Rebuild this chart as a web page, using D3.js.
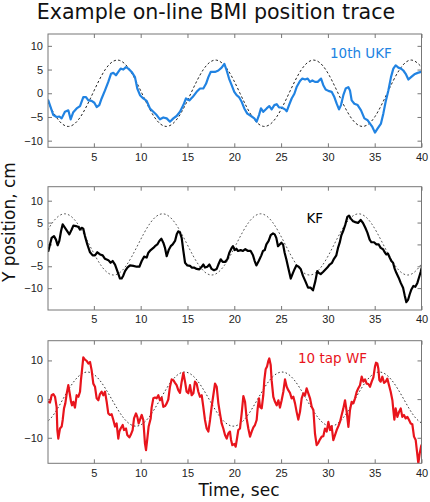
<!DOCTYPE html>
<html><head><meta charset="utf-8">
<script src="https://cdn.jsdelivr.net/npm/d3@7"></script>
<style>body{margin:0;background:#fff}svg{display:block}</style>
</head><body><svg id="c" width="430" height="502"></svg>
<script>
// ---------- data ----------
const xTickValues = [5,10,15,20,25,30,35,40];
const yTicksSmall = [-10,-5,0,5,10];
const yTicksWide = [-10,0,10];

// 10th UKF (blue) trace
const ukfT = [0.13,0.67,1.02,1.31,1.56,1.91,2.27,2.52,2.8,3.16,3.52,3.87,4.16,4.41,4.76,5.05,5.3,5.58,5.83,6.19,6.54,6.83,7.08,7.36,7.61,7.86,8.15,8.43,8.68,9.04,9.39,9.64,9.93,10.28,10.64,10.99,11.35,11.71,12.06,12.42,12.78,13.13,13.49,13.84,14.2,14.56,14.84,15.2,15.55,15.98,16.34,16.69,16.98,17.23,17.48,17.94,
  18.3,18.65,18.94,19.19,19.44,19.72,20.0,20.25,20.5,20.79,21.07,21.39,21.79,22.14,22.39,22.64,22.85,23.1,23.46,23.74,23.99,24.28,24.53,24.78,25.06,25.42,25.6,25.85,26.13,26.42,26.66,27.02,27.27,27.56,27.84,28.09,28.34,28.62,28.91,29.27,29.51,29.76,30.05,30.4,30.69,30.94,31.19,31.4,31.65,31.9,32.18,32.36,32.54,32.83,33.18,33.54,33.9,34.25,34.5,34.75,35.03,35.32,35.67,35.92,36.17,36.46,36.74,36.99,37.24,37.53,37.81,38.06,38.31,38.6,38.88,39.24,39.59,39.95];
const ukfV = [-1.5,-4.6,-5.0,-4.9,-5.3,-3.9,-3.6,-5.5,-4.0,-3.2,-2.7,-0.8,-0.8,-1.5,-1.6,-2.0,-2.9,-2.5,-1.1,0.6,2.4,4.1,4.3,3.8,4.5,5.2,5.0,5.5,5.2,4.5,3.4,1.0,-0.4,-1.1,-1.6,-3.2,-3.9,-4.6,-5.5,-5.1,-5.3,-6.0,-5.3,-4.8,-3.9,-2.5,-1.1,-1.5,-0.8,0.3,1.0,1.0,2.0,3.4,4.5,4.5,
  4.8,5.4,6.2,4.8,3.1,1.7,0.3,-0.4,-0.8,-1.8,-3.2,-4.3,-4.8,-5.3,-6.0,-4.6,-3.2,-3.9,-3.2,-2.7,-3.4,-2.5,-2.3,-3.0,-3.0,-3.4,-3.8,-2.5,-1.1,-0.1,1.3,2.6,3.1,2.9,3.1,2.4,2.7,2.4,2.4,3.1,1.7,0.8,0.5,0.3,-0.8,-2.2,-3.4,-2.5,-0.4,1.0,1.3,0.6,-1.5,-2.2,-2.5,-3.6,-5.3,-5.7,-6.4,-7.1,-8.3,-7.4,-6.4,-4.3,-1.8,0.6,3.4,5.2,5.9,5.4,5.2,4.8,4.1,2.9,3.4,4.0,4.3,4.5];

// KF (black) trace
const kfT = [0.14,0.31,0.49,0.74,0.95,1.13,1.31,1.49,1.67,1.92,2.17,2.38,2.63,2.81,3.09,3.34,3.52,3.7,3.87,4.05,4.3,4.59,4.87,5.12,5.37,5.66,5.94,6.19,6.55,6.79,7.01,7.26,7.51,7.79,7.97,8.15,8.33,8.58,8.86,9.22,9.57,9.86,10.11,10.36,10.64,10.82,11.07,11.35,11.53,11.78,11.99,12.21,12.42,12.6,12.78,12.99,13.21,13.42,13.67,13.85,14.02,14.2,14.38,14.56,14.74,14.99,15.27,15.45,15.7,15.98,16.27,16.52,16.7,16.87,17.12,17.34,17.58,17.83,18.12,18.3,18.55,18.76,19.01,19.26,19.47,19.72,
  19.86,20.04,20.22,20.4,20.68,20.93,21.18,21.47,21.75,22.0,22.18,22.36,22.61,22.89,23.07,23.25,23.43,23.67,23.89,24.14,24.32,24.49,24.67,24.85,25.03,25.21,25.38,25.56,25.74,26.03,26.27,26.45,26.63,26.88,27.09,27.34,27.59,27.88,28.16,28.41,28.66,28.87,29.02,29.23,29.48,29.66,29.94,30.19,30.44,30.65,30.9,31.08,31.26,31.44,31.62,31.87,32.08,32.26,32.44,32.69,32.93,33.22,33.5,33.75,34.0,34.22,34.46,34.64,34.93,35.18,35.43,35.64,35.89,36.07,36.25,36.42,36.6,36.78,36.96,37.14,37.31,37.56,37.78,38.03,38.2,38.38,38.56,38.74,38.92,39.13,39.34,39.56,39.7,39.91,40.0];
const kfV = [-1.5,0,1.5,1.9,1.1,-0.2,0.8,3.0,4.6,3.8,3.0,2.3,3.4,4.3,4.2,4.0,3.4,3.8,3.6,1.9,0,-1.8,-2.5,-2.5,-1.8,-2.3,-2.5,-3.3,-3.6,-4.2,-3.8,-4.6,-6.1,-7.8,-7.8,-7.1,-6.1,-5.3,-4.8,-4.9,-5.1,-5.1,-3.8,-2.8,-3.0,-1.9,-1.3,-0.8,-0.4,0,0.8,1.3,0.4,-0.8,-2.7,-1.3,-0.4,0,0.8,2.3,3.0,2.7,1.5,-1.5,-4.2,-4.8,-4.9,-5.3,-5.3,-5.6,-5.7,-5.1,-4.6,-5.3,-5.1,-4.6,-5.6,-5.9,-5.6,-4.6,-3.4,-4.0,-4.0,-3.4,-1.9,-0.8,
  -0.4,-1.3,-1.0,-1.5,-1.3,-1.5,-1.1,-1.5,-1.5,-2.5,-3.8,-4.8,-3.8,-2.5,-1.5,-1.3,0,0.8,2.1,2.5,2.3,1.5,-0.4,0,0.4,0,-1.9,-3.4,-5.1,-7.8,-6.5,-5.6,-4.8,-5.1,-5.6,-7.2,-8.4,-9.9,-9.9,-10.5,-8.4,-6.1,-6.5,-6.8,-6.3,-5.9,-5.3,-4.6,-4.2,-3.3,-2.5,-0.8,0.4,2.1,3.0,4.6,6.3,6.6,5.9,5.3,5.1,4.9,5.6,4.9,3.8,2.7,1.1,0.5,0.5,0,0,-0.8,-1.1,-1.8,-2.3,-2.1,-3.0,-3.8,-4.2,-5.6,-6.5,-7.6,-8.8,-9.9,-11.6,-13.2,-12.7,-11.4,-10.3,-9.5,-9.7,-8.8,-7.8,-6.3,-5.5];

// 10 tap WF (red) trace
const wfT = [0.13,0.31,0.49,0.67,0.85,1.02,1.1,1.2,1.38,1.56,1.67,1.81,1.95,2.09,2.27,2.45,2.56,2.66,2.8,2.98,3.16,3.34,3.52,3.62,3.77,3.87,4.05,4.23,4.41,4.59,4.76,4.94,5.12,5.3,5.48,5.65,5.83,6.01,6.19,6.37,6.54,6.72,6.9,7.08,7.26,7.43,7.61,7.72,7.86,8.08,8.22,8.43,8.57,8.79,8.93,9.14,9.29,9.5,9.64,9.79,9.93,10.11,10.28,10.46,10.57,10.71,10.85,11.07,11.17,11.35,11.53,11.71,11.89,12.06,12.24,12.42,12.6,12.78,12.95,13.13,13.31,13.49,13.67,13.84,14.02,14.2,14.38,14.56,14.74,14.91,15.09,15.27,15.45,15.63,15.8,15.98,16.16,16.34,16.52,16.69,16.87,17.05,17.23,17.41,17.58,17.76,
  17.94,18.12,18.3,18.47,18.65,18.83,19.01,19.19,19.36,19.54,19.65,19.79,20.01,20.15,20.29,20.43,20.61,20.79,20.97,21.15,21.32,21.5,21.68,21.86,22.04,22.21,22.39,22.5,22.64,22.75,22.93,23.1,23.21,23.35,23.5,23.64,23.74,23.89,23.99,24.17,24.35,24.53,24.71,24.88,25.06,25.24,25.42,25.6,25.77,25.95,26.13,26.31,26.49,26.66,26.84,27.02,27.2,27.38,27.56,27.73,27.91,28.09,28.27,28.45,28.62,28.8,28.98,29.16,29.34,29.51,29.69,29.87,30.05,30.23,30.4,30.58,30.76,30.94,31.12,31.29,31.47,31.65,31.83,32.01,32.19,32.36,32.54,32.72,32.9,33.08,33.25,33.43,33.61,33.79,33.97,34.14,34.32,34.5,34.68,34.86,35.03,35.14,35.28,35.39,35.5,35.64,35.82,36.0,36.17,36.35,36.53,36.71,36.89,36.99,37.1,37.24,37.42,37.6,37.78,37.95,38.13,38.31,38.49,38.67,38.85,39.02,39.2,39.38,39.52,39.66,39.81,39.95,40.0];
const wfV = [-0.7,-0.9,1.0,1.3,0.6,-2.0,-8.0,-10.2,-7.6,-7.1,-5.4,-2.4,-1.1,1.3,3.6,1.0,-0.7,-1.6,-0.7,-2.2,1.0,0.6,1.9,4.9,8.4,10.8,10.2,9.9,9.2,9.6,7.5,4.0,3.2,0.2,-0.3,1.3,1.9,1.0,1.9,-0.7,-3.7,-4.1,-3.9,-5.4,-7.1,-6.3,-10.2,-8.4,-7.6,-6.7,-8.0,-7.6,-9.3,-9.9,-9.3,-8.0,-5.0,-3.7,-4.6,-6.3,-5.3,-4.1,-5.4,-11.5,-13.2,-10.2,-7.1,-5.0,-2.2,0.2,0.4,0.2,1.0,-0.3,0.4,-2.0,-1.8,-1.1,-0.1,3.2,5.1,4.9,4.2,3.6,2.3,1.6,4.5,6.8,4.5,1.9,1.5,3.6,1.0,1.5,4.5,4.0,1.9,0.6,1.0,-2.0,-5.4,-7.6,-8.4,-5.4,-2.0,1.0,
  4.0,3.2,-1.1,-3.7,-6.3,-7.6,-9.3,-10.2,-8.9,-8.4,-10.5,-11.9,-11.6,-12.3,-10.2,-8.0,-7.6,-3.7,0.8,-0.7,-5.0,-7.6,-9.7,-8.4,-7.3,-6.7,-5.4,-2.4,0.2,-2.0,-2.4,1.0,4.9,7.7,8.4,9.9,10.5,8.8,4.9,0.6,-0.7,-1.6,-0.3,-2.2,-0.3,1.9,5.1,3.2,2.3,1.6,0.2,0.6,-1.1,-3.3,-5.3,-3.3,0.2,1.5,1.0,2.8,1.5,0.2,-2.0,-2.8,-8.9,-11.9,-11.3,-10.4,-9.7,-9.6,-7.6,-8.4,-5.9,-8.0,-7.0,-10.6,-9.3,-8.0,-7.0,-5.9,-4.1,-2.4,-0.3,-3.3,-7.2,-2.8,-0.7,-1.1,0.2,1.9,2.8,3.6,5.8,4.5,5.1,4.0,3.9,3.2,4.5,5.6,8.4,9.4,9.2,7.9,4.9,4.5,5.8,4.2,4.5,5.3,3.6,1.9,-0.3,-2.8,-5.3,-2.4,-4.6,-3.3,-2.4,-4.6,-4.1,-5.0,-4.6,-5.4,-6.3,-6.5,-9.7,-10.6,-13.6,-16.6,-14.0,-12.3,-11.9];

// desired (target) trajectories, dashed, read at eighth-period points
const refT1 = [-0.35,0.96,2.27,3.58,4.89,6.2,7.51,8.82,10.13,11.44,12.75,14.06,15.37,16.68,17.99,19.3,20.61,21.92,23.23,24.54,25.85,27.16,28.47,29.78,31.09,32.4,33.71,35.02,36.33,37.64,38.95,40.26];
const refV1 = [0,-4.95,-7,-4.95,0,4.95,7,4.95,0,-4.95,-7,-4.95,0,4.95,7,4.95,0,-4.95,-7,-4.95,0,4.95,7,4.95,0,-4.95,-7,-4.95,0,4.95,7,4.95];
const refT2 = [-0.74,0.57,1.88,3.19,4.5,5.81,7.11,8.42,9.73,11.04,12.35,13.66,14.97,16.28,17.58,18.89,20.2,21.51,22.82,24.13,25.44,26.75,28.05,29.36,30.67,31.98,33.29,34.6,35.91,37.22,38.52,39.83,41.14];
const refV2 = [0,4.95,7,4.95,0,-4.95,-7,-4.95,0,4.95,7,4.95,0,-4.95,-7,-4.95,0,4.95,7,4.95,0,-4.95,-7,-4.95,0,4.95,7,4.95,0,-4.95,-7,-4.95,0];
const refT3 = [-0.9,0.4,1.7,3.0,4.3,5.6,6.9,8.2,9.5,10.8,12.1,13.4,14.7,16.0,17.3,18.6,19.9,21.2,22.5,23.8,25.1,26.4,27.7,29.0,30.3,31.6,32.9,34.2,35.5,36.8,38.1,39.4,40.7];
const refV3 = [-7,-4.95,0,4.95,7,4.95,0,-4.95,-7,-4.95,0,4.95,7,4.95,0,-4.95,-7,-4.95,0,4.95,7,4.95,0,-4.95,-7,-4.95,0,4.95,7,4.95,0,-4.95,-7];

const seriesLabels = ["10th UKF","KF","10 tap WF"];
const titleText = "Example on-line BMI position trace";
const xLabelText = "Time, sec";
const yLabelText = "Y position, cm";

// ---------- layout ----------
const svg = d3.select("#c");
const L = 48, R = 421.5;
const x = d3.scaleLinear().domain([0.1, 40]).range([L, R]);
const frameColor = "#777";
const tickFont = "'Liberation Sans', Arial, sans-serif";
const textFont = "'DejaVu Sans', Verdana, sans-serif";

const panels = [
  {top:34, bottom:147.3, dom:[-11.4,12.5], yt:yTicksSmall, t:ukfT, v:ukfV, rt:refT1, rv:refV1,
   color:"#2183e2", label:seriesLabels[0], lx:330, ly:58, dash:"2.4,2.2", dashColor:"#222", dw:1},
  {top:186.7, bottom:310, dom:[-15,13.2], yt:yTicksSmall, t:kfT, v:kfV, rt:refT2, rv:refV2,
   color:"#000", label:seriesLabels[1], lx:306.5, ly:223, dash:"1.8,2.2", dashColor:"#444", dw:0.9},
  {top:340.7, bottom:463.3, dom:[-16.6,15.1], yt:yTicksWide, t:wfT, v:wfV, rt:refT3, rv:refV3,
   color:"#e8141c", label:seriesLabels[2], lx:298, ly:363, dash:"1.6,2.2", dashColor:"#222", dw:0.9}
];

panels.forEach((p, i) => {
  const y = d3.scaleLinear().domain(p.dom).range([p.bottom, p.top]);
  const g = svg.append("g");
  const cid = "clip" + i;
  svg.append("clipPath").attr("id", cid).append("rect")
    .attr("x", L).attr("y", p.top).attr("width", R - L).attr("height", p.bottom - p.top);

  // axes with inward ticks on all four sides
  const styleAxis = sel => {
    sel.select(".domain").remove();
    sel.selectAll(".tick line").attr("stroke", frameColor);
    sel.selectAll(".tick text").attr("fill", "#222").style("font-family", tickFont).style("font-size", "11px");
  };
  g.append("g").attr("transform", `translate(0,${p.bottom})`)
    .call(d3.axisBottom(x).tickValues(xTickValues).tickSizeInner(-4).tickSizeOuter(0).tickPadding(5.5).tickFormat(d3.format("d")))
    .call(styleAxis);
  g.append("g").attr("transform", `translate(0,${p.top})`)
    .call(d3.axisTop(x).tickValues(xTickValues).tickSizeInner(-4).tickSizeOuter(0).tickFormat(""))
    .call(styleAxis);
  g.append("g").attr("transform", `translate(${L},0)`)
    .call(d3.axisLeft(y).tickValues(p.yt).tickSizeInner(-4).tickSizeOuter(0).tickPadding(5).tickFormat(d3.format("d")))
    .call(styleAxis);
  g.append("g").attr("transform", `translate(${R},0)`)
    .call(d3.axisRight(y).tickValues(p.yt).tickSizeInner(-4).tickSizeOuter(0).tickFormat(""))
    .call(styleAxis);

  const plot = g.append("g").attr("clip-path", `url(#${cid})`);
  // target trajectory (dashed)
  plot.append("path")
    .datum(d3.zip(p.rt, p.rv))
    .attr("fill", "none").attr("stroke", p.dashColor).attr("stroke-width", p.dw)
    .attr("stroke-dasharray", p.dash)
    .attr("d", d3.line().x(d => x(d[0])).y(d => y(d[1])).curve(d3.curveNatural));
  // decoded trace
  plot.append("path")
    .datum(d3.zip(p.t, p.v))
    .attr("fill", "none").attr("stroke", p.color).attr("stroke-width", 2.2)
    .attr("stroke-linejoin", "round").attr("stroke-linecap", "round")
    .attr("d", d3.line().x(d => x(d[0])).y(d => y(d[1])));

  // frame
  g.append("rect").attr("x", L).attr("y", p.top).attr("width", R - L).attr("height", p.bottom - p.top)
    .attr("fill", "none").attr("stroke", frameColor).attr("stroke-width", 1);

  // series label
  g.append("text").attr("x", p.lx).attr("y", p.ly).text(p.label)
    .attr("fill", p.color).style("font-family", textFont).style("font-size", "13.5px");
});

// title and axis titles
svg.append("text").attr("x", 216).attr("y", 19).attr("text-anchor", "middle")
  .text(titleText).attr("fill", "#111").style("font-family", textFont).style("font-size", "20.6px");
svg.append("text").attr("x", 239).attr("y", 496).attr("text-anchor", "middle")
  .text(xLabelText).attr("fill", "#111").style("font-family", textFont).style("font-size", "17px");
svg.append("text").attr("transform", "translate(15,222) rotate(-90)").attr("text-anchor", "middle")
  .text(yLabelText).attr("fill", "#111").style("font-family", textFont).style("font-size", "17px");
</script>
</body></html>
